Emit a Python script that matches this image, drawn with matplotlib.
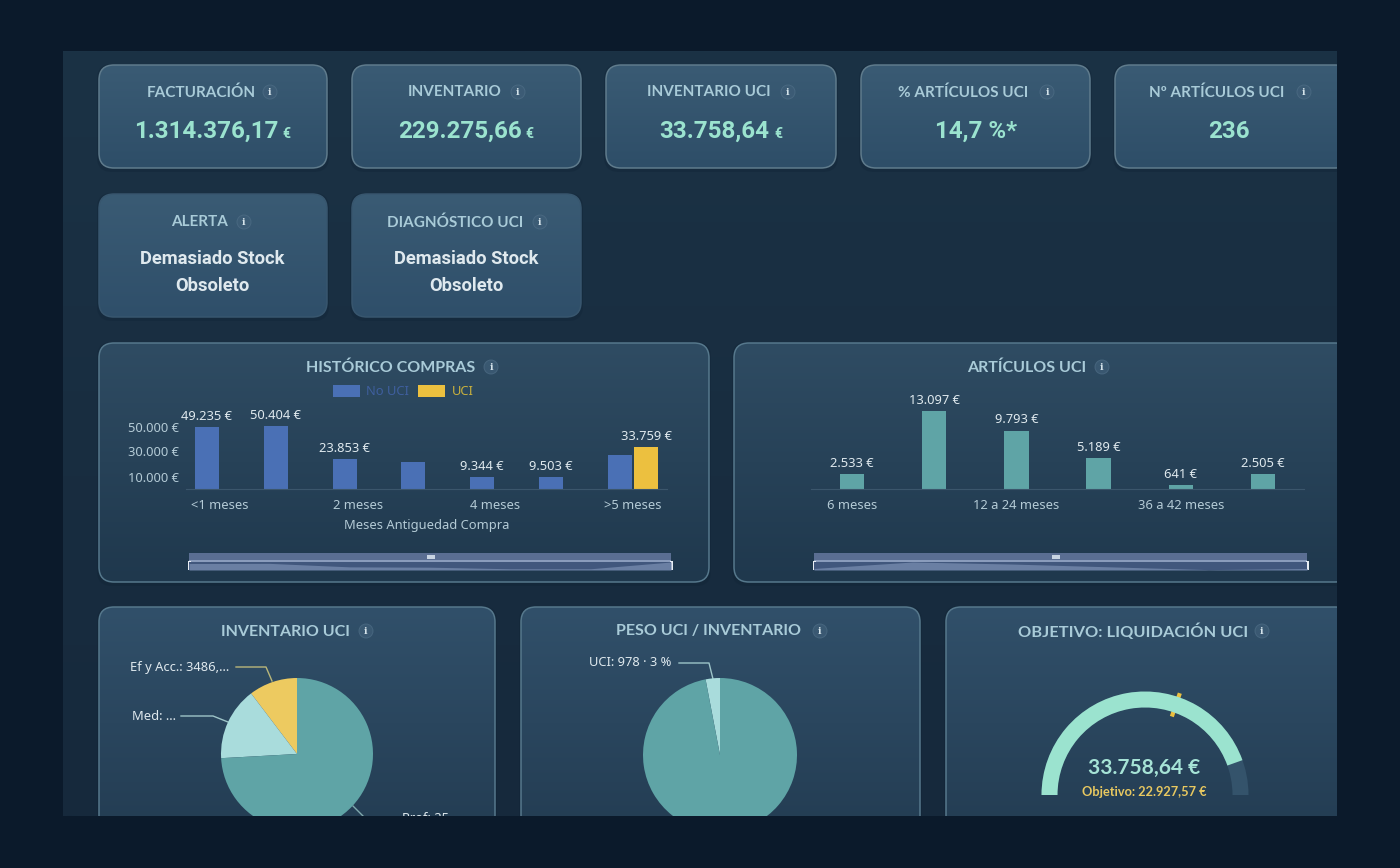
import numpy as np
import matplotlib
matplotlib.use("Agg")
import matplotlib.pyplot as plt
from matplotlib.patches import FancyBboxPatch, Rectangle, Circle, Wedge
from matplotlib.colors import LinearSegmentedColormap

W, H = 1400, 868

# chart data
kpi_titles = ["FACTURACIÓN", "INVENTARIO", "INVENTARIO UCI", "% ARTÍCULOS UCI", "Nº ARTÍCULOS UCI"]
kpi_values = ["1.314.376,17", "229.275,66", "33.758,64", "14,7 %*", "236"]
kpi_units = ["€", "€", "€", "", ""]
alert_titles = ["ALERTA", "DIAGNÓSTICO UCI"]
alert_lines = ["Demasiado Stock", "Obsoleto"]

compras_ticks = ["<1 meses", "", "2 meses", "", "4 meses", "", ">5 meses"]
compras_no_uci = [49235, 50404, 23853, 21300, 9344, 9503, 27000]
compras_uci = [0, 0, 0, 0, 0, 0, 33759]
compras_labels = ["49.235 €", "50.404 €", "23.853 €", "", "9.344 €", "9.503 €", ""]
uci_labels = ["", "", "", "", "", "", "33.759 €"]
compras_yticks = [10000, 30000, 50000]
compras_yticklabels = ["10.000 €", "30.000 €", "50.000 €"]

articulos_ticks = ["6 meses", "", "12 a 24 meses", "", "36 a 42 meses", ""]
articulos_values = [2533, 13097, 9793, 5189, 641, 2505]
articulos_labels = ["2.533 €", "13.097 €", "9.793 €", "5.189 €", "641 €", "2.505 €"]

inv_values = [3486, 5250, 25022]
peso_values = [978, 31622]

gauge_value = 33758.64
gauge_target = 22927.57
gauge_max = 37900

BLUE = "#4a70b5"
YELLOW = "#ecc03f"
TEAL = "#5fa4a6"
LIGHT = "#a9dcdc"
PIE_YELLOW = "#edca60"
MINT = "#9be3cf"
TITLE = "#a9cbd8"
LABEL = "#dfe9ee"
AXIS_TXT = "#b4cbd6"

plt.rcParams["font.family"] = ["Noto Sans", "DejaVu Sans"]

fig = plt.figure(figsize=(W / 100, H / 100), dpi=100, facecolor="#0b1a2b")
bg = fig.add_axes([0, 0, 1, 1])
bg.set_xlim(0, W)
bg.set_ylim(H, 0)
bg.axis("off")


def px_axes(x0, y0, x1, y1, z=2):
    a = fig.add_axes([x0 / W, 1 - y1 / H, (x1 - x0) / W, (y1 - y0) / H], zorder=z)
    a.patch.set_alpha(0)
    return a


def gradient(x0, y0, x1, y1, top, bottom, clip=None, z=1):
    cmap = LinearSegmentedColormap.from_list("g", [top, bottom])
    im = bg.imshow(np.linspace(0, 1, 256).reshape(-1, 1), cmap=cmap, aspect="auto",
                   extent=(x0, x1, y1, y0), zorder=z)
    if clip is not None:
        im.set_clip_path(clip)
    bg.set_xlim(0, W)
    bg.set_ylim(H, 0)


def card(x0, y0, x1, y1, top, bottom, edge):
    r = 15
    # soft shadow round the card
    bg.add_patch(FancyBboxPatch((x0 - 2, y0 - 1), x1 - x0 + 4, y1 - y0 + 5,
                                boxstyle=f"round,pad=0,rounding_size={r}",
                                fc="#0f2234", ec="none", alpha=0.3, zorder=1.5))
    p = FancyBboxPatch((x0, y0), x1 - x0, y1 - y0, boxstyle=f"round,pad=0,rounding_size={r}",
                       fc="none", ec=edge, lw=1.1, zorder=3)
    bg.add_patch(p)
    gradient(x0, y0, x1, y1, top, bottom, clip=p, z=2)


def info(x, y):
    bg.add_patch(Circle((x, y), 7, fc="#3f5e78", ec="#4f6e86", lw=0.7, alpha=0.7, zorder=4))
    bg.text(x, y + 0.5, "i", color="#d5e3ea", fontsize=7, fontweight="bold", family="DejaVu Serif",
            ha="center", va="center", zorder=5)


def title(x, y, s, ix, size=11):
    bg.text(x, y + 1.5, s, color=TITLE, fontsize=size, fontweight="bold", family="Lato",
            ha="center", va="center", zorder=5)
    info(ix, y + 1)


def slider(x0, x1, values):
    bg.add_patch(Rectangle((x0, 553), x1 - x0, 7, fc="#5a6e92", ec="none", zorder=4))
    bg.add_patch(Rectangle((x0, 560), x1 - x0, 1.6, fc="#8a9cbc", ec="none", zorder=5))
    bg.add_patch(Rectangle((x0 + 238, 555), 8, 3.5, fc="#c8d4e2", ec="none", zorder=5))
    sl = px_axes(x0, 562, x1, 570)
    sl.set_xlim(0, len(values) - 1)
    sl.set_ylim(0, max(values))
    sl.axis("off")
    sl.add_patch(Rectangle((0, 0), 1, 1, transform=sl.transAxes, fc="#41577d", ec="none", zorder=0))
    sl.fill_between(np.arange(len(values)), values, color="#6a7fa3", lw=0, zorder=1)
    for hx in (x0, x1):
        bg.add_patch(Rectangle((hx - 1.5, 561), 3, 9, fc="#e8edf3", ec="none", zorder=6))


# page background
gradient(63, 51, 1337, 816, "#1b3245", "#16293c")

# KPI row
kpi_boxes = [(99, 327), (352, 581), (606, 836), (861, 1090), (1115, 1350)]
kpi_title_x = [201, 455, 709, 963, 1217]
kpi_icon_x = [270, 518, 788, 1047, 1304]
kpi_value_x = [206.5, 460, 714, 976, 1229]
kpi_unit_x = [286, 529, 778, 0, 0]
for i, (x0, x1) in enumerate(kpi_boxes):
    card(x0, 65, x1, 168, "#3a5b74", "#2e4e68", "#5f7b8c")
    title(kpi_title_x[i], 91, kpi_titles[i], kpi_icon_x[i])
    bg.text(kpi_value_x[i], 131.5, kpi_values[i], color=MINT, fontsize=17.4, fontweight="bold",
            family="Roboto", ha="center", va="center", zorder=5)
    if kpi_units[i]:
        bg.text(kpi_unit_x[i], 134, kpi_units[i], color=MINT, fontsize=10, fontweight="bold",
                family="Roboto", ha="center", va="center", zorder=5)

# alert row
alert_boxes = [(99, 327), (352, 581)]
alert_title_x = [200, 455]
alert_icon_x = [244, 540]
for i, (x0, x1) in enumerate(alert_boxes):
    card(x0, 194, x1, 317, "#3a5b74", "#2f4f6a", "#38566e")
    title(alert_title_x[i], 221, alert_titles[i], alert_icon_x[i])
    cx = (x0 + x1) / 2 - 0.5
    bg.text(cx, 259, alert_lines[0], color=LABEL, fontsize=13.2, fontweight="bold", family="Roboto",
            ha="center", va="center", zorder=5)
    bg.text(cx, 286, alert_lines[1], color=LABEL, fontsize=13.2, fontweight="bold", family="Roboto",
            ha="center", va="center", zorder=5)

# chart panels
card(99, 343, 709, 582, "#2f4c63", "#1f384d", "#56788c")
card(734, 343, 1350, 582, "#2f4c63", "#1f384d", "#56788c")
card(99, 607, 495, 840, "#31506a", "#233c52", "#56788c")
card(521, 607, 920, 840, "#31506a", "#233c52", "#56788c")
card(946, 607, 1350, 840, "#31506a", "#233c52", "#56788c")
title(391, 366, "HISTÓRICO COMPRAS", 491, 11.5)
title(1027, 366, "ARTÍCULOS UCI", 1102, 11.5)
title(285, 630, "INVENTARIO UCI", 366, 11.5)
title(709, 630, "PESO UCI / INVENTARIO", 820, 11.5)
title(1133, 630, "OBJETIVO: LIQUIDACIÓN UCI", 1262, 11.8)

# historico compras
ax1 = px_axes(185.5, 414, 667.5, 489)
pos = np.arange(len(compras_no_uci))
b1 = ax1.bar(pos - 0.19, compras_no_uci, 0.35, color=BLUE, label="No UCI")
b2 = ax1.bar(pos + 0.19, compras_uci, 0.35, color=YELLOW, label="UCI")
ax1.bar_label(b1, labels=compras_labels, color=LABEL, fontsize=9.3, padding=3)
ax1.bar_label(b2, labels=uci_labels, color=LABEL, fontsize=9.3, padding=3)
ax1.set_xlim(-0.5, 6.5)
ax1.set_ylim(0, 60000)
ax1.set_xticks(pos, compras_ticks, color=AXIS_TXT, fontsize=9.3)
ax1.set_yticks(compras_yticks, compras_yticklabels, color=AXIS_TXT, fontsize=9.3)
ax1.tick_params(length=0, pad=7)
ax1.tick_params(axis="y", pad=5)
for s in ["top", "right", "left"]:
    ax1.spines[s].set_visible(False)
ax1.spines["bottom"].set_color("#3b566c")
leg = ax1.legend(ncols=2, loc="center", bbox_to_anchor=(403 / W, 1 - 391.5 / H), bbox_transform=fig.transFigure,
                 frameon=False, fontsize=9.3, handlelength=2.1, handleheight=1.1, columnspacing=0.7,
                 handletextpad=0.5, labelcolor=["#3f5f9f", "#c9b13d"])
bg.text(427, 525, "Meses Antiguedad Compra", color=AXIS_TXT, fontsize=9.3, ha="center", va="center", zorder=5)
slider(189, 671, np.array(compras_no_uci) + np.array(compras_uci))

# articulos uci
ax2 = px_axes(811, 400, 1304, 489)
pos2 = np.arange(len(articulos_values))
b3 = ax2.bar(pos2, articulos_values, 0.295, color=TEAL)
ax2.bar_label(b3, labels=articulos_labels, color=LABEL, fontsize=9.3, padding=3)
ax2.set_xlim(-0.5, 5.5)
ax2.set_ylim(0, 14900)
ax2.set_xticks(pos2, articulos_ticks, color=AXIS_TXT, fontsize=9.3)
ax2.set_yticks([])
ax2.tick_params(length=0, pad=7)
for s in ["top", "right", "left"]:
    ax2.spines[s].set_visible(False)
ax2.spines["bottom"].set_color("#3b566c")
slider(814, 1307, articulos_values)

# inventario uci pie
ax3 = px_axes(221, 678, 373, 830)
ax3.pie(inv_values, colors=[PIE_YELLOW, LIGHT, TEAL], startangle=90, radius=1)
ax3.set_xlim(-1, 1)
ax3.set_ylim(-1, 1)
bg.text(130, 667, "Ef y Acc.: 3486,...", color=LABEL, fontsize=9.3, ha="left", va="center", zorder=5)
bg.plot([236, 266, 272], [667, 667, 681], color="#b9b77a", lw=1, zorder=5)
bg.text(132, 716, "Med: ...", color=LABEL, fontsize=9.3, ha="left", va="center", zorder=5)
bg.plot([181, 213, 228], [716, 716, 722], color="#9dc4c8", lw=1, zorder=5)
bg.text(402, 819, "Prof: 25", color=LABEL, fontsize=9.3, ha="left", va="center", zorder=5)
bg.plot([353, 365], [806, 818], color="#7fa9ad", lw=1, zorder=5)

# peso uci pie
ax4 = px_axes(643, 678, 797, 832)
ax4.pie(peso_values, colors=[LIGHT, TEAL], startangle=90, radius=1)
ax4.set_xlim(-1, 1)
ax4.set_ylim(-1, 1)
bg.text(589, 663, "UCI: 978 · 3 %", color=LABEL, fontsize=9.3, ha="left", va="center", zorder=5)
bg.plot([679, 709, 713], [663, 663, 679], color="#9dc4c8", lw=1, zorder=5)

# objetivo gauge
ax5 = px_axes(1035, 685, 1255, 795)
ax5.set_xlim(-110, 110)
ax5.set_ylim(0, 110)
ax5.axis("off")
val_angle = 180 - 180 * gauge_value / gauge_max
tgt_angle = np.radians(180 - 180 * gauge_target / gauge_max)
ax5.add_patch(Wedge((0, 0), 103.5, 0, 180, width=16, fc="#34536b", ec="none", zorder=1))
ax5.plot([85 * np.cos(tgt_angle), 105.5 * np.cos(tgt_angle)], [85 * np.sin(tgt_angle), 105.5 * np.sin(tgt_angle)],
         color=YELLOW, lw=3, zorder=2)
ax5.add_patch(Wedge((0, 0), 103.5, val_angle, 180, width=16, fc=MINT, ec="none", zorder=3))
bg.text(1144.5, 768, "33.758,64 €", color="#a6e3d6", fontsize=15, fontweight="bold", family="Lato",
        ha="center", va="center", zorder=5)
bg.text(1144.5, 791.5, "Objetivo: 22.927,57 €", color="#e8c860", fontsize=9.2, fontweight="bold", family="Lato",
        ha="center", va="center", zorder=5)

# dark frame over everything, the screenshot is cropped here
top = fig.add_axes([0, 0, 1, 1], zorder=20)
top.set_xlim(0, W)
top.set_ylim(H, 0)
top.axis("off")
top.patch.set_alpha(0)
for x, y, w, h in [(0, 0, W, 51), (0, 816, W, 52), (0, 0, 63, H), (1337, 0, 63, H)]:
    top.add_patch(Rectangle((x, y), w, h, fc="#0b1a2b", ec="none"))

fig.savefig("out.png", dpi=100, facecolor=fig.get_facecolor())
